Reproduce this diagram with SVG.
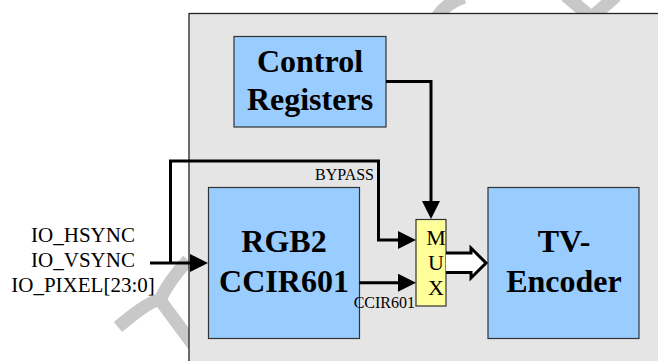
<svg xmlns="http://www.w3.org/2000/svg" width="658" height="361" viewBox="0 0 658 361">
<style>
.blk{fill:#99ccff;stroke:#333;stroke-width:1.2}
.big{font-weight:bold;font-size:32px;fill:#000;text-anchor:middle}
.sm{font-size:16px;fill:#000}
.io{font-size:21px;fill:#000;text-anchor:middle}
.mux{font-size:22px;fill:#000;text-anchor:middle}
.wire{fill:none;stroke:#000;stroke-width:3}
.wm{fill:none;stroke:#c8c8c8;stroke-width:13}
</style>
<defs>
<marker id="ah" markerUnits="userSpaceOnUse" viewBox="0 0 18 18" refX="12" refY="9" markerWidth="18" markerHeight="18" orient="auto">
<path d="M0,0 L18,9 L0,18 z" fill="#000"/>
</marker>
</defs>
<rect width="658" height="361" fill="#fff"/>
<g id="watermark">
<path class="wm" d="M437,17 Q446,3 464,-3"/>
<path class="wm" d="M566,-4 L591,17 M616,-4 L592,17"/>
<path class="wm" d="M118,327 Q150,300 160,300 Q168,282 188,260 M160,300 L194,346"/>
</g>
<rect id="frame" x="189" y="13.5" width="500" height="400" fill="#e5e5e5" stroke="#222" stroke-width="1.3"/>
<g font-family="'Liberation Serif', 'DejaVu Serif', serif">
<g id="labels-io">
<text class="io" x="83" y="242">IO_HSYNC</text>
<text class="io" x="83" y="267">IO_VSYNC</text>
<text class="io" x="83" y="292">IO_PIXEL[23:0]</text>
</g>
<g id="control-registers">
<rect class="blk" x="234" y="36.5" width="152" height="90.5"/>
<text class="big" x="310" y="72">Control</text>
<text class="big" x="310" y="110">Registers</text>
</g>
<g id="rgb2ccir">
<rect class="blk" x="208.5" y="187.5" width="151" height="151"/>
<text class="big" x="284" y="252">RGB2</text>
<text class="big" x="284" y="292">CCIR601</text>
</g>
<g id="tv-encoder">
<rect class="blk" x="488" y="187.5" width="151" height="151"/>
<text class="big" x="564" y="252">TV-</text>
<text class="big" x="564" y="292">Encoder</text>
</g>
<g id="mux">
<rect x="416" y="219.5" width="30" height="86.5" fill="#ffff99" stroke="#333" stroke-width="1.2"/>
<text class="mux" x="436" y="244.5">M</text>
<text class="mux" x="436" y="269.5">U</text>
<text class="mux" x="436" y="294.5">X</text>
</g>
<g id="connectors">
<path class="wire" d="M150,263 L202,263" marker-end="url(#ah)"/>
<path class="wire" d="M170.5,263 L170.5,161 L378.5,161 L378.5,240 L410,240" marker-end="url(#ah)"/>
<path class="wire" d="M359.5,282.7 L410,282.7" marker-end="url(#ah)"/>
<path class="wire" d="M386,81.5 L431,81.5 L431,213" marker-end="url(#ah)"/>
<path d="M446,253 L471,253 L471,248 L486,263 L471,278 L471,272.5 L446,272.5" fill="#fff" stroke="#000" stroke-width="3" stroke-linejoin="miter"/>
<text class="sm" x="374" y="180" text-anchor="end">BYPASS</text>
<text class="sm" x="415" y="307.5" text-anchor="end">CCIR601</text>
</g>
</g>
</svg>
